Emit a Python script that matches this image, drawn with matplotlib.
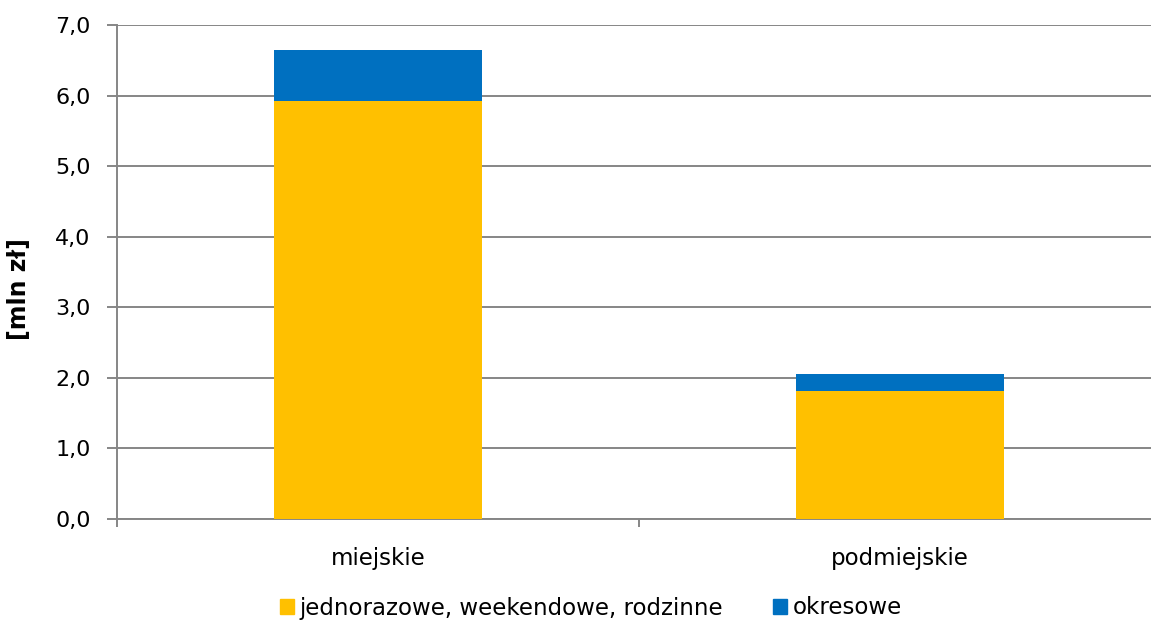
import matplotlib
matplotlib.use("Agg")
import matplotlib.pyplot as plt
from matplotlib.patches import Patch

# dane
kategorie = ["miejskie", "podmiejskie"]
jednorazowe = [5.92, 1.81]
okresowe = [0.73, 0.24]
serie = ["jednorazowe, weekendowe, rodzinne", "okresowe"]
y_ticks = [0, 1, 2, 3, 4, 5, 6, 7]

KOLOR_Z = "#FFC000"
KOLOR_N = "#0070C0"
SZARY = "#868686"

plt.rcParams["font.family"] = ["DejaVu Sans"]

fig = plt.figure(figsize=(11.51, 6.23), dpi=100)
W, H = 1151, 623
ax = fig.add_axes([117 / W, (H - 519) / H, (1161 - 117) / W, (519 - 25) / H])

x = range(len(kategorie))
ax.bar(x, jednorazowe, width=0.4, color=KOLOR_Z, zorder=3)
ax.bar(x, okresowe, width=0.4, bottom=jednorazowe, color=KOLOR_N, zorder=3)

ax.set_xlim(-0.5, 1.5)
ax.set_ylim(0, 7)
ax.set_yticks(y_ticks)
ax.set_yticklabels([f"{v:.1f}".replace(".", ",") for v in y_ticks], fontsize=16)
ax.set_xticks(list(x))
ax.set_xticklabels(kategorie, fontsize=16.5)
ax.set_xticks([-0.5, 0.5, 1.5], minor=True)
ax.tick_params(axis="x", which="major", length=0, pad=20)
ax.tick_params(axis="x", which="minor", length=6, width=1.4, color=SZARY)
ax.tick_params(axis="y", length=7, width=1.4, color=SZARY, pad=12)

ax.grid(axis="y", color=SZARY, linewidth=1.4, zorder=0)
for s in ["top", "right"]:
    ax.spines[s].set_visible(False)
for s in ["left", "bottom"]:
    ax.spines[s].set_color(SZARY)
    ax.spines[s].set_linewidth(1.4)

fig.text(19 / W, (H - 289) / H, "[mln zł]", rotation=90, fontsize=17,
         fontweight="bold", ha="center", va="center")

uchwyty = [Patch(color=KOLOR_Z), Patch(color=KOLOR_N)]
fig.legend(uchwyty, serie, loc="center", bbox_to_anchor=(591 / W, (H - 608) / H),
           ncol=2, frameon=False, fontsize=16.5, handlelength=0.6, handleheight=0.6,
           handletextpad=0.25, columnspacing=2.2)

fig.savefig("out.png", dpi=100)
